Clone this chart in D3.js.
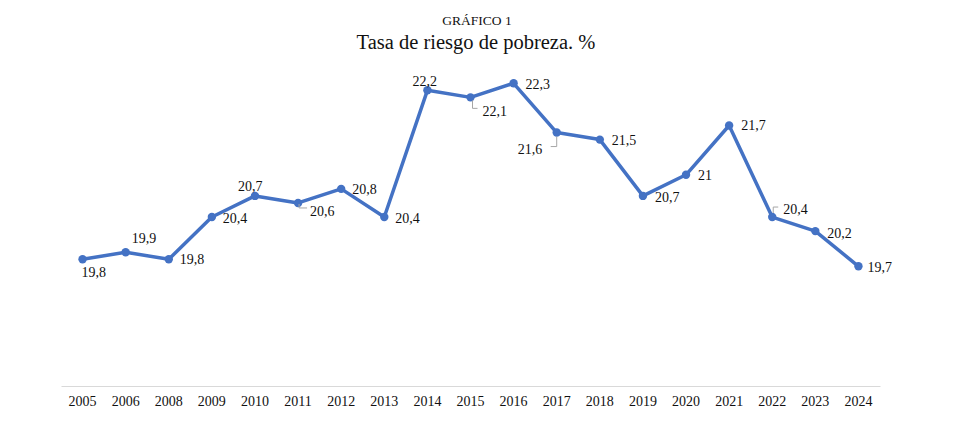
<!DOCTYPE html>
<html>
<head>
<meta charset="utf-8">
<script src="https://cdn.jsdelivr.net/npm/d3@7"></script>
<style>
  body { margin: 0; background: #fff; }
  svg { display: block; }
  svg text { font-family: "Liberation Serif", "Times New Roman", "DejaVu Serif", serif; }
</style>
</head>
<body>
<svg width="953" height="427"></svg>
<script>
var years = [
  "2005", "2006", "2008", "2009", "2010", "2011", "2012", "2013", "2014", "2015",
  "2016", "2017", "2018", "2019", "2020", "2021", "2022", "2023", "2024"
];

var rates = [
  19.8, 19.9, 19.8, 20.4, 20.7, 20.6, 20.8, 20.4, 22.2, 22.1,
  22.3, 21.6, 21.5, 20.7, 21, 21.7, 20.4, 20.2, 19.7
];

var labelText = [
  "19,8", "19,9", "19,8", "20,4", "20,7", "20,6", "20,8", "20,4", "22,2", "22,1",
  "22,3", "21,6", "21,5", "20,7", "21", "21,7", "20,4", "20,2", "19,7"
];

// where each data label sits, relative to its point (left edge, vertical centre)
var labelOffsets = [
  [-1, 13], [6, -14], [11, 0], [11, 1], [-17, -10], [12, 8], [11, 0], [11, 1], [-15, -9], [12, 14],
  [12, 1], [-39, 17], [12, 0], [12, 1], [12, 0], [12, 0], [11, -8], [12, 2], [9, 1]
];

// small leader lines some labels have
var leaders = {
  5:  [[1, 1], [1, 5], [9, 5]],
  9:  [[2, 3], [2, 11], [7, 11]],
  11: [[0, 4], [0, 14], [-6, 14]],
  16: [[1, -4], [1, -10], [6, -10]]
};

var svg = d3.select("svg");

var margin = { top: 34, right: 73, bottom: 41, left: 61 };
var width = 953, height = 427;

var x = d3.scaleBand()
  .domain(years)
  .range([margin.left, width - margin.right])
  .padding(0);

var y = d3.scaleLinear()
  .domain([18, 23])
  .range([height - margin.bottom, margin.top]);

function cx(i) { return x(years[i]) + x.bandwidth() / 2; }

// titles
svg.append("text")
  .attr("x", 477)
  .attr("y", 25)
  .attr("text-anchor", "middle")
  .style("font-size", "13.5px")
  .style("fill", "#111")
  .text("GRÁFICO 1");

svg.append("text")
  .attr("x", 476)
  .attr("y", 49)
  .attr("text-anchor", "middle")
  .style("font-size", "20.5px")
  .style("fill", "#111")
  .text("Tasa de riesgo de pobreza. %");

// x axis
var xAxis = d3.axisBottom(x).tickSize(0).tickSizeOuter(0).tickPadding(10);
var xGroup = svg.append("g")
  .attr("transform", "translate(0," + y(18) + ")")
  .call(xAxis);
xGroup.attr("font-family", null);
xGroup.select(".domain").attr("stroke", "#d9d9d9").attr("stroke-width", 1);
xGroup.selectAll("text")
  .style("font-size", "14px")
  .style("fill", "#111");

// line
var line = d3.line()
  .x(function(d, i) { return cx(i); })
  .y(function(d) { return y(d); });

svg.append("path")
  .datum(rates)
  .attr("fill", "none")
  .attr("stroke", "#4472C4")
  .attr("stroke-width", 3.5)
  .attr("stroke-linejoin", "round")
  .attr("d", line);

svg.selectAll("circle.pt")
  .data(rates)
  .enter().append("circle")
  .attr("class", "pt")
  .attr("cx", function(d, i) { return cx(i); })
  .attr("cy", function(d) { return y(d); })
  .attr("r", 4.2)
  .attr("fill", "#4472C4");

// leader lines
Object.keys(leaders).forEach(function(k) {
  var i = +k;
  var px = cx(i), py = y(rates[i]);
  svg.append("path")
    .attr("fill", "none")
    .attr("stroke", "#a6a6a6")
    .attr("stroke-width", 1)
    .attr("d", d3.line()(leaders[k].map(function(p) { return [px + p[0], py + p[1]]; })));
});

// data labels
svg.selectAll("text.lbl")
  .data(rates)
  .enter().append("text")
  .attr("class", "lbl")
  .attr("x", function(d, i) { return cx(i) + labelOffsets[i][0]; })
  .attr("y", function(d, i) { return y(d) + labelOffsets[i][1]; })
  .attr("dy", "0.35em")
  .style("font-size", "14px")
  .style("fill", "#111")
  .text(function(d, i) { return labelText[i]; });
</script>
</body>
</html>
